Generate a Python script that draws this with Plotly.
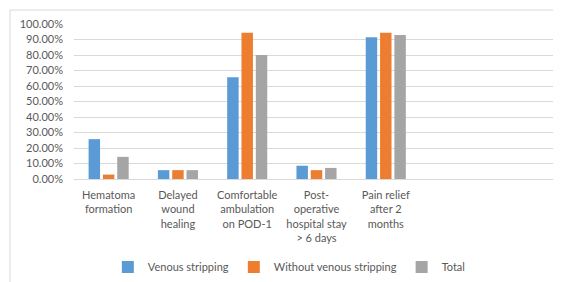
import plotly.graph_objects as go

categories = ["Hematoma<br>formation", "Delayed<br>wound<br>healing", "Comfortable<br>ambulation<br>on POD-1",
              "Post-<br>operative<br>hospital stay<br>> 6 days", "Pain relief<br>after 2<br>months"]
venous = [0.2571, 0.0571, 0.6571, 0.0857, 0.9143]
without = [0.0286, 0.0571, 0.9429, 0.0571, 0.9429]
total = [0.1429, 0.0571, 0.80, 0.0714, 0.9286]
y_ticks = [i / 10 for i in range(11)]

series = [("Venous stripping", venous, "#5B9BD5"),
          ("Without venous stripping", without, "#ED7D31"),
          ("Total", total, "#A5A5A5")]

xpos = list(range(len(categories)))
fig = go.Figure()
for name, vals, col in series:
    fig.add_trace(go.Bar(x=xpos, y=vals, name=name, marker=dict(color=col, line=dict(width=0))))

font = dict(family="Lato, Open Sans, sans-serif", size=11, color="#595959")
fig.update_layout(
    width=561, height=282,
    margin=dict(l=66, r=10, t=16, b=111, autoexpand=False),
    paper_bgcolor="white", plot_bgcolor="white",
    barmode="group", bargap=0.38, bargroupgap=0.2,
    font=font,
    showlegend=True,
    legend=dict(orientation="h", x=0.444, xanchor="center", y=-0.568, yanchor="middle",
                font=font, itemwidth=30, traceorder="normal"),
    xaxis=dict(range=[-0.5, 6.5], tickvals=xpos, ticktext=categories, showgrid=False,
               zeroline=False, showline=False, ticks="", tickfont=font, tickangle=0,
               automargin=False, ticklabelstandoff=8),
    yaxis=dict(range=[0, 1.0], tickvals=y_ticks, tickformat=".2%", showgrid=True,
               gridcolor="#D9D9D9", gridwidth=1, zeroline=True, zerolinecolor="#D9D9D9",
               zerolinewidth=1, showline=False, ticks="", tickfont=font, ticklabelstandoff=10,
               automargin=False),
    shapes=[dict(type="rect", xref="paper", yref="paper", x0=-0.132, x1=1.2, y0=-0.8, y1=1.09,
                 line=dict(color="#D9D9D9", width=1), fillcolor="rgba(0,0,0,0)", layer="below")],
)
fig.write_html("out.html")
